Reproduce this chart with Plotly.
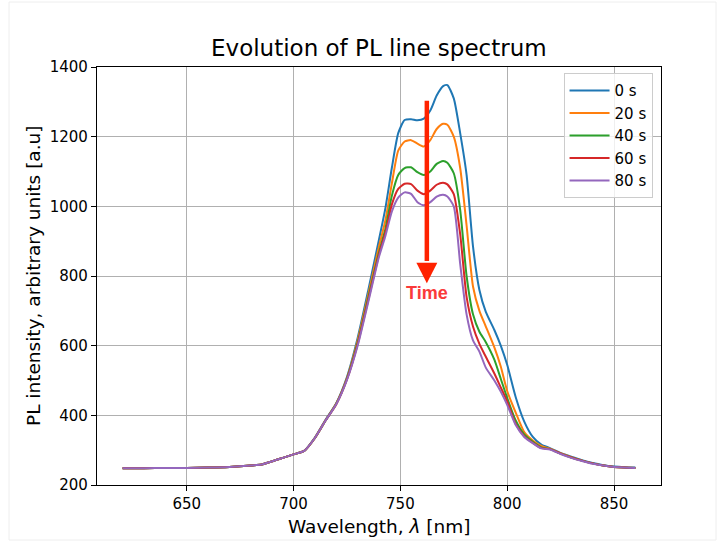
import plotly.graph_objects as go

wavelength = [620, 630, 640, 650, 660, 670, 680, 685, 690, 695, 700, 705, 710, 715, 720, 725,
              730, 735, 740, 743, 746, 749, 752, 755, 758, 761, 764, 767, 770, 772, 775, 778,
              781, 784, 787, 790, 794, 797, 800, 804, 808, 812, 816, 820, 825, 830, 835, 840,
              845, 850, 855, 860]

s0 = [248, 248, 249, 249, 250, 252, 256, 259, 268, 278, 288, 298, 336, 387, 435, 510,
      622, 760, 905, 995, 1110, 1210, 1248, 1250, 1247, 1252, 1275, 1318, 1345, 1348, 1310, 1210,
      1090, 885, 760, 697, 645, 600, 545, 452, 382, 338, 316, 306, 292, 281, 271, 263,
      257, 253, 251, 250]
s20 = [248, 248, 249, 249, 250, 252, 256, 259, 268, 278, 288, 298, 335, 386, 434, 507,
       615, 748, 885, 960, 1065, 1160, 1186, 1190, 1180, 1172, 1190, 1222, 1237, 1234, 1200, 1110,
       945, 770, 700, 655, 595, 540, 470, 408, 352, 328, 312, 304, 291, 280, 270, 262,
       256, 252, 250, 249]
s40 = [248, 248, 249, 249, 250, 252, 256, 259, 268, 278, 288, 298, 335, 385, 433, 505,
       608, 738, 868, 935, 1030, 1090, 1110, 1112, 1098, 1090, 1100, 1122, 1130, 1125, 1095, 990,
       800, 690, 640, 610, 560, 505, 450, 385, 345, 324, 308, 303, 290, 279, 270, 262,
       256, 252, 250, 249]
s60 = [248, 248, 249, 249, 250, 252, 256, 259, 268, 278, 288, 298, 335, 385, 432, 503,
       604, 732, 862, 925, 1005, 1050, 1065, 1064, 1045, 1035, 1045, 1062, 1068, 1063, 1035, 920,
       740, 655, 605, 568, 520, 480, 440, 375, 340, 321, 306, 303, 290, 279, 270, 262,
       256, 252, 250, 249]
s80 = [248, 248, 249, 249, 250, 252, 256, 259, 268, 278, 288, 298, 335, 385, 432, 502,
       600, 726, 855, 915, 985, 1025, 1040, 1036, 1012, 1003, 1012, 1028, 1033, 1028, 1000, 835,
       690, 615, 583, 537, 500, 468, 430, 372, 338, 320, 305, 302, 289, 278, 269, 261,
       256, 252, 250, 249]

series_names = ["0 s", "20 s", "40 s", "60 s", "80 s"]
series_values = [s0, s20, s40, s60, s80]
colors = ["#1f77b4", "#ff7f0e", "#2ca02c", "#d62728", "#9467bd"]

x_ticks = [650, 700, 750, 800, 850]
y_ticks = [200, 400, 600, 800, 1000, 1200, 1400]

FONT = "DejaVu Sans"
W, H = 720, 542
L, R, T, B = 97, 661, 67, 485

fig = go.Figure()
for name, vals, c in zip(series_names, series_values, colors):
    fig.add_trace(go.Scatter(x=wavelength, y=vals, mode="lines", name=name,
                             line=dict(color=c, width=2, shape="spline", smoothing=0.6)))

# arrow (shaft + head) and label
arrow_x = 762.4
arrow_top, arrow_base, arrow_tip = 1303, 838, 779
head_half = 4.9
fig.add_shape(type="line", xref="x", yref="y", x0=arrow_x, x1=arrow_x,
              y0=arrow_top, y1=arrow_base + 5, line=dict(color="#ff2200", width=4.5))
fig.add_shape(type="path", xref="x", yref="y",
              path=f"M {arrow_x - head_half} {arrow_base} L {arrow_x + head_half} {arrow_base} L {arrow_x} {arrow_tip} Z",
              fillcolor="#ff2200", line=dict(color="#ff2200", width=0))
fig.add_annotation(x=arrow_x, y=750, xref="x", yref="y", text="<b>Time</b>", showarrow=False,
                   font=dict(family="Liberation Sans", size=18, color="#fa3a3a"),
                   xanchor="center", yanchor="middle")

# faint outer frame of the picture
def px_to_paper_x(px):
    return (px - L) / (R - L)

def px_to_paper_y(py):
    return (B - py) / (B - T)

fig.add_shape(type="rect", xref="paper", yref="paper",
              x0=px_to_paper_x(9), x1=px_to_paper_x(716), y0=px_to_paper_y(540), y1=px_to_paper_y(2),
              line=dict(color="#eeeeee", width=1), fillcolor="rgba(0,0,0,0)", layer="below")

# title and axis labels
fig.add_annotation(x=0.5, y=px_to_paper_y(48), xref="paper", yref="paper",
                   text="Evolution of PL line spectrum", showarrow=False,
                   font=dict(family=FONT, size=23, color="black"), xanchor="center", yanchor="middle")
fig.add_annotation(x=0.5, y=px_to_paper_y(526), xref="paper", yref="paper",
                   text="Wavelength, <i>λ</i> [nm]", showarrow=False,
                   font=dict(family=FONT, size=18.5, color="black"), xanchor="center", yanchor="middle")
fig.add_annotation(x=px_to_paper_x(33), y=px_to_paper_y(276), xref="paper", yref="paper",
                   text="PL intensity, arbitrary units [a.u]", showarrow=False, textangle=-90,
                   font=dict(family=FONT, size=18.5, color="black"), xanchor="center", yanchor="middle")

axis_common = dict(showgrid=True, gridcolor="#b0b0b0", gridwidth=1, showline=True, linecolor="black",
                   linewidth=1.2, mirror=True, ticks="outside", ticklen=5, tickwidth=1.2,
                   tickcolor="black", zeroline=False,
                   tickfont=dict(family=FONT, size=15, color="black"))

fig.update_xaxes(range=[608, 872], tickvals=x_ticks, ticktext=[str(v) for v in x_ticks], **axis_common)
fig.update_yaxes(range=[200, 1400], tickvals=y_ticks, ticktext=[str(v) for v in y_ticks], **axis_common)

fig.update_layout(
    width=W, height=H,
    margin=dict(l=L, r=W - R, t=T, b=H - B, pad=0),
    paper_bgcolor="white", plot_bgcolor="white",
    showlegend=True,
    legend=dict(x=0.985, y=0.985, xanchor="right", yanchor="top",
                bgcolor="rgba(255,255,255,0.8)", bordercolor="#cccccc", borderwidth=1,
                font=dict(family=FONT, size=15, color="black"), tracegroupgap=0,
                itemwidth=40),
)

fig.write_html("out.html")
